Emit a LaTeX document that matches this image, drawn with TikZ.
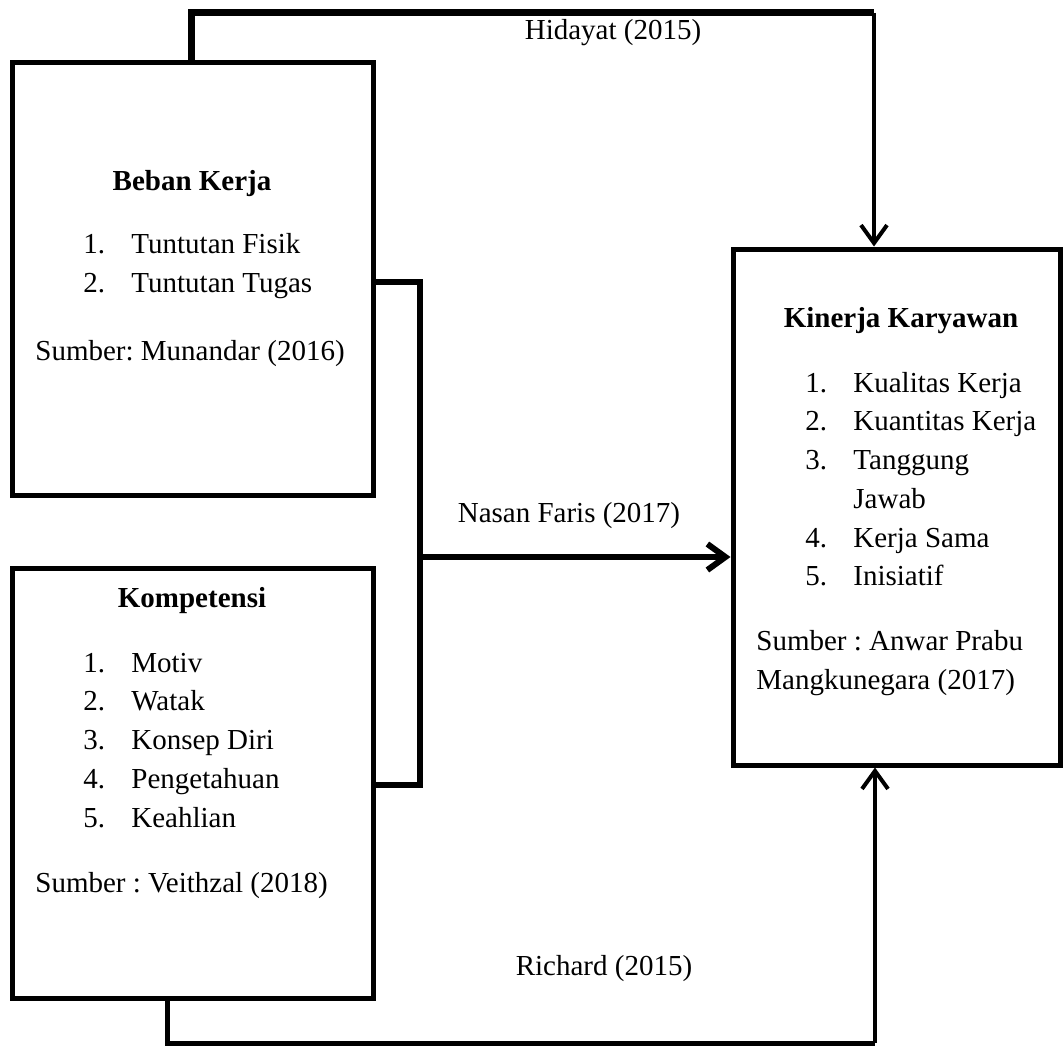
\documentclass[tikz,border=0pt]{standalone}
\usepackage{fontspec}
\setmainfont{Liberation Serif}
\usetikzlibrary{arrows.meta}
\frenchspacing

\tikzset{
  kotak/.style={draw, line width=2.5pt, inner sep=0pt},
  teks/.style={inner sep=0pt, anchor=base west, font=\fontsize{14.5}{17}\selectfont},
  judul/.style={inner sep=0pt, anchor=base, font=\fontsize{14.5}{17}\selectfont\bfseries},
  sitasi/.style={inner sep=0pt, anchor=base, font=\fontsize{14.5}{17}\selectfont},
  panah/.style={line width=2pt, -{Straight Barb[length=9pt,width=13pt]}},
}
\newcommand{\nomor}[1]{\makebox[24pt][l]{#1}}

\begin{document}
\begin{tikzpicture}[x=0.5pt, y=-0.5pt]
\useasboundingbox (0,0) rectangle (1064,1054);
% kotak variabel
\node[kotak, minimum width=180.5pt, minimum height=216pt] (beban) at (192.5,279) {};
\node[kotak, minimum width=180.5pt, minimum height=215pt] (kompetensi) at (192.5,783) {};
\node[kotak, minimum width=163.5pt, minimum height=258pt] (kinerja) at (896.5,507) {};
% isi Beban Kerja
\node[judul] (jdlBeban) at (192,190) {Beban Kerja};
\node[teks] (fisik) at (83,253) {\nomor{1.}Tuntutan Fisik};
\node[teks] (tugas) at (83,292) {\nomor{2.}Tuntutan Tugas};
\node[teks] (smbBeban) at (35,360) {Sumber: Munandar (2016)};
% isi Kompetensi
\node[judul] (jdlKomp) at (192,607) {Kompetensi};
\node[teks] (motiv) at (83,672) {\nomor{1.}Motiv};
\node[teks] (watak) at (83,710.5) {\nomor{2.}Watak};
\node[teks] (konsep) at (83,749.5) {\nomor{3.}Konsep Diri};
\node[teks] (tahu) at (83,788) {\nomor{4.}Pengetahuan};
\node[teks] (ahli) at (83,827) {\nomor{5.}Keahlian};
\node[teks] (smbKomp) at (35,892) {Sumber : Veithzal (2018)};
% isi Kinerja Karyawan
\node[judul] (jdlKin) at (901,327) {Kinerja Karyawan};
\node[teks] (kualitas) at (805,392) {\nomor{1.}Kualitas Kerja};
\node[teks] (kuantitas) at (805,430.5) {\nomor{2.}Kuantitas Kerja};
\node[teks] (tanggung) at (805,469) {\nomor{3.}Tanggung};
\node[teks] (jawab) at (805,508) {\nomor{}Jawab};
\node[teks] (sama) at (805,547) {\nomor{4.}Kerja Sama};
\node[teks] (inisiatif) at (805,585.5) {\nomor{5.}Inisiatif};
\node[teks] (smbKin1) at (756,650) {Sumber : Anwar Prabu};
\node[teks] (smbKin2) at (756,689) {Mangkunegara (2017)};
% garis penghubung
\coordinate (hid1) at (191,13);
\coordinate (hid2) at (874,13);
\draw[line width=3.5pt] (hid1 |- beban.north) -- (hid1) -- (hid2);
\draw[panah] (hid2) -- (hid2 |- kinerja.north);
\node[sitasi] (hidayat) at (613,40) {Hidayat (2015)};

\coordinate (nas1) at (420,282);
\coordinate (nas2) at (420,785);
\coordinate (nas3) at (420,557);
\draw[line width=3pt] (beban.east |- nas1) -- (nas1) -- (nas2) -- (kompetensi.east |- nas2);
\draw[panah, line width=3pt] (nas3) -- (nas3 -| kinerja.west);
\node[sitasi] (nasan) at (569,522) {Nasan Faris (2017)};

\coordinate (ric1) at (167,1043);
\coordinate (ric2) at (875,1043);
\draw[line width=2.5pt] (ric1 |- kompetensi.south) -- (ric1) -- (ric2);
\draw[panah] (ric2) -- (ric2 |- kinerja.south);
\node[sitasi] (richard) at (604,975) {Richard (2015)};
\end{tikzpicture}
\end{document}
